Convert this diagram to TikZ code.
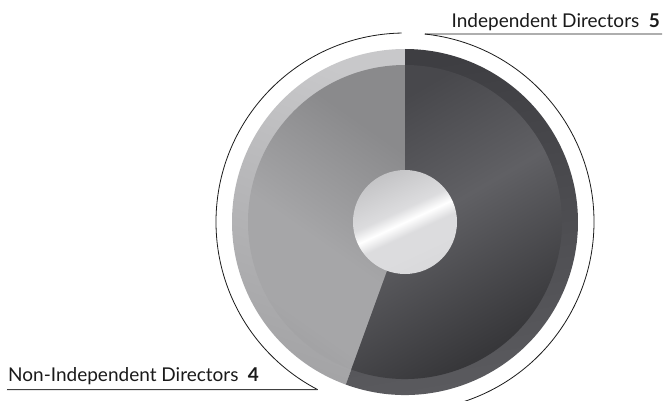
\documentclass[tikz,border=0pt]{standalone}
\usepackage{fontspec}
\setmainfont{Lato}
\definecolor{txt}{HTML}{1A1A1A}
\definecolor{lineC}{HTML}{1A1A1A}
\definecolor{lrimA}{HTML}{C8C8CA}
\definecolor{lrimB}{HTML}{A4A4A6}
\definecolor{linA}{HTML}{8A8A8C}
\definecolor{linB}{HTML}{A6A6A8}
\definecolor{rrimA}{HTML}{3E3E42}
\definecolor{rrimB}{HTML}{5C5C60}
\definecolor{rinA}{HTML}{48484C}
\definecolor{rinB}{HTML}{606064}
\definecolor{rinC}{HTML}{37373A}
\definecolor{silA}{HTML}{C4C4C6}
\definecolor{silB}{HTML}{DCDCDE}
\definecolor{silC}{HTML}{D2D2D4}
\pgfdeclareverticalshading{silver}{100bp}{color(0bp)=(silC); color(35bp)=(silB); color(44bp)=(silB); color(50bp)=(white); color(56bp)=(silB); color(75bp)=(silA); color(100bp)=(silA)}
\pgfdeclareverticalshading{rinner}{100bp}{color(0bp)=(rinC); color(30bp)=(rinC); color(55bp)=(rinB); color(75bp)=(rinA); color(100bp)=(rinA)}
\pgfdeclareverticalshading{linner}{100bp}{color(0bp)=(linA); color(30bp)=(linB); color(45bp)=(linB); color(70bp)=(linA); color(100bp)=(linA)}
\tikzset{
  leader/.style={draw=lineC, line width=0.8pt},
  label/.style={text=txt, font=\fontsize{19}{22}\selectfont, inner sep=0pt}
}
\begin{document}
\begin{tikzpicture}[x=1pt,y=1pt]
\useasboundingbox (0,0) rectangle (665,400);
\clip (0,0) rectangle (665,400);
\fill[white] (0,0) rectangle (665,400);
\coordinate (c) at (405,178);
% left sector (non-independent)
\shade[top color=lrimA, bottom color=lrimB, shading angle=-20]
  (c) -- ++(90:173) arc[start angle=90,end angle=250,radius=173] -- cycle;
\shade[shading=linner, shading angle=-35]
  (c) -- ++(90:157) arc[start angle=90,end angle=250,radius=157] -- cycle;
% right sector (independent)
\shade[top color=rrimA, bottom color=rrimB, shading angle=10]
  (c) -- ++(250:173) arc[start angle=250,end angle=450,radius=173] -- cycle;
\shade[shading=rinner, shading angle=30]
  (c) -- ++(250:157) arc[start angle=250,end angle=450,radius=157] -- cycle;
% centre disc
\shade[shading=silver, shading angle=25] (c) circle[radius=52];
% outer arcs and leader lines
\path (c) ++(84:189) coordinate (ra0);
\path (c) ++(91:189) coordinate (la0);
\coordinate (rt) at (662,366);
\coordinate (lt) at (7,10.4);
\draw[leader] (ra0) arc[start angle=84,end angle=-78,radius=189];
\draw[leader] (ra0) -- (rt);
\draw[leader] (la0) arc[start angle=91,end angle=242.5,radius=189] coordinate (la1);
\draw[leader, draw=black!75, line width=1.1pt] (la1) -- (lt);
% labels
\node[label, anchor=base east] (ind) at (660,372) {Independent Directors\hspace{0.5em}\textbf{5}};
\node[label, anchor=base west] (non) at (8,19) {Non-Independent Directors\hspace{0.5em}\textbf{4}};
\end{tikzpicture}
\end{document}
